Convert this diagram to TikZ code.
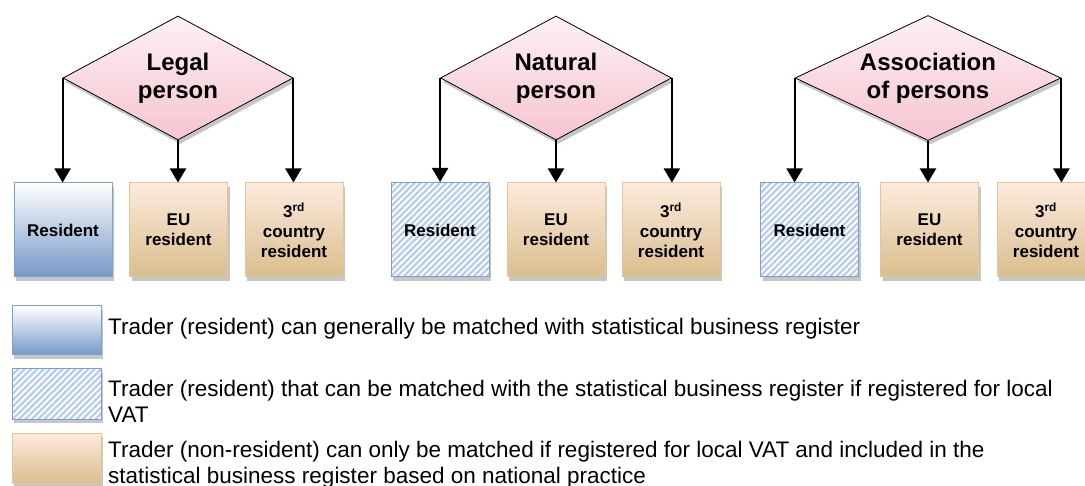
\documentclass[tikz,border=0pt]{standalone}
\usepackage{fontspec}
\setmainfont{Liberation Sans}
\usetikzlibrary{shapes.geometric,arrows.meta,shadows,patterns.meta}
\definecolor{myPinkTop}{RGB}{253,240,244}
\definecolor{myPinkBottom}{RGB}{246,196,208}
\definecolor{myBlueBottom}{RGB}{118,152,199}
\definecolor{myBlueBorder}{RGB}{122,160,210}
\definecolor{myHatch}{RGB}{183,203,235}
\definecolor{myTanTop}{RGB}{253,234,220}
\definecolor{myTanBottom}{RGB}{217,190,142}
\definecolor{myTanBorder}{RGB}{226,198,152}

\begin{document}
\begin{tikzpicture}[%
    x=1pt, y=-1pt,
    every node/.style={align=center, inner sep=0pt},
    shade/.style={drop shadow={opacity=0.45, shadow xshift=2pt, shadow yshift=-4pt}},
    kind/.style={diamond, aspect=1.85, draw=black, line width=0.8pt, shade,
        top color=myPinkTop, bottom color=myPinkBottom,
        font=\bfseries\fontsize{24}{28}\selectfont},
    box/.style={rectangle, minimum width=98pt, minimum height=94pt,
        line width=1pt, shade, font=\bfseries\fontsize{17}{20}\selectfont},
    resbox/.style={box, draw=myBlueBorder, top color=white, bottom color=myBlueBottom},
    hatchbox/.style={box, draw=myBlueBorder, preaction={fill=myHatch},
        pattern={Lines[angle=45,distance=4.5pt,line width=2pt]}, pattern color=white},
    tanbox/.style={box, draw=myTanBorder, top color=myTanTop, bottom color=myTanBottom},
    arr/.style={line width=2pt, -{Triangle[width=16pt,length=14pt]}},
    legend/.style={anchor=base west, align=left, font=\fontsize{22.5}{25.5}\selectfont},
]
\useasboundingbox (0,0) rectangle (1085,486);

% the three kinds of person
\node[kind, minimum width=230pt, minimum height=124pt] (legal) at (178,78) {Legal\\person};
\node[kind, minimum width=231pt, minimum height=124pt] (natural) at (556,78) {Natural\\person};
\node[kind, minimum width=266pt, minimum height=125pt] (assoc) at (928,78) {Association\\of persons};

% boxes below each kind
\node[resbox] (legRes) at (63,230) {Resident};
\node[tanbox] (legEu) at (178.5,230) {EU\\resident};
\node[tanbox] (legThird) at (294,230) {3\textsuperscript{rd}\\country\\resident};

\node[hatchbox] (natRes) at (440,230) {Resident};
\node[tanbox] (natEu) at (556,230) {EU\\resident};
\node[tanbox] (natThird) at (671,230) {3\textsuperscript{rd}\\country\\resident};

\node[hatchbox] (assRes) at (809.5,230) {Resident};
\node[tanbox] (assEu) at (929.5,230) {EU\\resident};
\node[tanbox] (assThird) at (1046,230) {3\textsuperscript{rd}\\country\\resident};

% arrows from the corners of each diamond
\foreach \k/\r/\e/\t in {legal/legRes/legEu/legThird,natural/natRes/natEu/natThird,assoc/assRes/assEu/assThird}{
    \draw[arr] (\k.west) -- (\k.west |- \r.north);
    \draw[arr] (\k.south) -- (\k.south |- \e.north);
    \draw[arr] (\k.east) -- (\k.east |- \t.north);
}

% legend
\node[resbox, minimum width=89pt, minimum height=49pt] (keyRes) at (56.5,330.5) {};
\node[hatchbox, minimum width=89pt, minimum height=50pt] (keyHatch) at (56.5,394) {};
\node[tanbox, minimum width=89pt, minimum height=50pt] (keyTan) at (56.5,458) {};

\node[legend] (txtRes) at (108,335) {Trader (resident) can generally be matched with statistical business register};
\node[legend] (txtHatch) at (108,422) {Trader (resident) that can be matched with the statistical business register if registered for local\\VAT};
\node[legend] (txtTan) at (108,483) {Trader (non-resident) can only be matched if registered for local VAT and included in the\\statistical business register based on national practice};
\end{tikzpicture}
\end{document}
